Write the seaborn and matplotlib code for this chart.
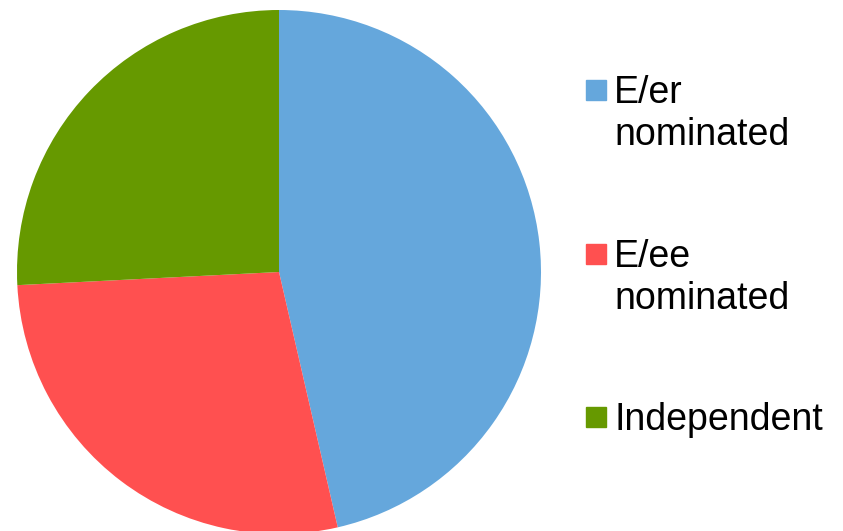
import matplotlib
matplotlib.use("Agg")
import matplotlib.pyplot as plt
import matplotlib.patches as mpatches
import seaborn as sns

# data (share of nominations, %)
labels = ["E/er\nnominated", "E/ee\nnominated", "Independent"]
shares = [46.4, 27.8, 25.8]
colors = ["#65A7DC", "#FF5050", "#669900"]

sns.set_style("white")
plt.rcParams["font.family"] = ["Liberation Sans", "DejaVu Sans"]

W, H = 843, 531
fig = plt.figure(figsize=(W / 100, H / 100), dpi=100)

# pie axes, square in pixels
cx, cy, r = 279, 272, 262
ax = fig.add_axes([(cx - r) / W, (H - cy - r) / H, 2 * r / W, 2 * r / H])
ax.pie(shares, colors=colors, startangle=90, counterclock=False,
       radius=1, wedgeprops=dict(linewidth=0))
ax.set_xlim(-1, 1)
ax.set_ylim(-1, 1)
ax.set_aspect("equal")
ax.axis("off")

# legend drawn by hand so the square sits by the first text line
baselines = [103, 267, 430]
for lab, col, base in zip(labels, colors, baselines):
    sq = mpatches.Rectangle((586 / W, (H - base + 3) / H), 20 / W, 20 / H,
                            transform=fig.transFigure, color=col)
    fig.patches.append(sq)
    for k, line in enumerate(lab.split("\n")):
        fig.text(614 / W, (H - base - 42 * k) / H, line, fontsize=27,
                 va="baseline", ha="left", color="black")

fig.savefig("out.png", dpi=100)
